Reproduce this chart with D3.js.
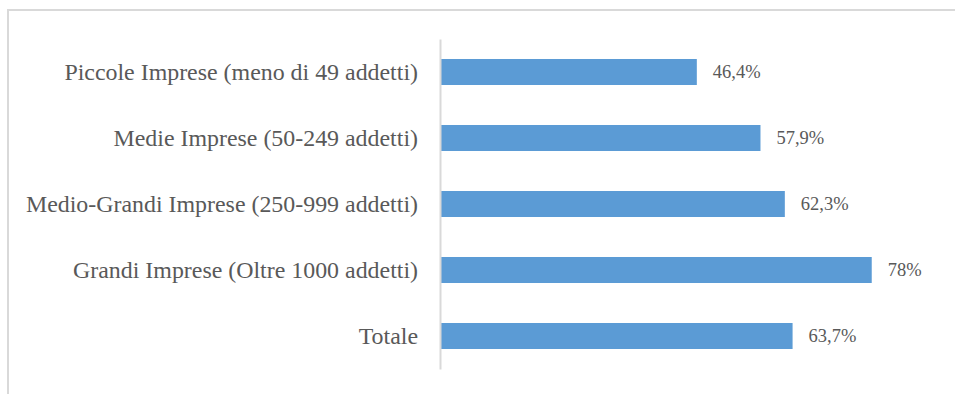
<!DOCTYPE html>
<html>
<head>
<meta charset="utf-8">
<script src="https://cdn.jsdelivr.net/npm/d3@7/dist/d3.min.js"></script>
<style>
  html, body { margin: 0; padding: 0; background: #fff; }
  svg { display: block; }
</style>
</head>
<body>
<svg id="chart" width="955" height="394"></svg>
<script>
// Share of companies by size class (percent)
const categories = [
  "Piccole Imprese (meno di 49 addetti)",
  "Medie Imprese (50-249 addetti)",
  "Medio-Grandi Imprese (250-999 addetti)",
  "Grandi Imprese (Oltre 1000 addetti)",
  "Totale"
];
const values = [46.4, 57.9, 62.3, 78, 63.7];
const valueLabels = ["46,4%", "57,9%", "62,3%", "78%", "63,7%"];

const svg = d3.select("#chart");
const textColor = "#595959";
const gridColor = "#D9D9D9";
const barColor = "#5B9BD5";

// outer chart frame (extends past the visible area on right and bottom)
svg.append("rect")
  .attr("x", 8).attr("y", 10)
  .attr("width", 1000).attr("height", 500)
  .attr("fill", "none")
  .attr("stroke", gridColor)
  .attr("stroke-width", 2);

const x = d3.scaleLinear().domain([0, 100]).range([440, 993.5]);
const y = d3.scaleBand().domain(categories).range([39, 369]).paddingInner(0.606).paddingOuter(0.303);

// bars
svg.append("g").selectAll("rect")
  .data(values)
  .join("rect")
  .attr("x", x(0))
  .attr("y", (d, i) => y(categories[i]))
  .attr("width", d => x(d) - x(0))
  .attr("height", y.bandwidth())
  .attr("fill", barColor);

// category axis
const axis = d3.axisLeft(y).tickSize(0).tickPadding(22);
const gAxis = svg.append("g")
  .attr("transform", `translate(${x(0)},0)`)
  .call(axis);
gAxis.select(".domain")
  .attr("stroke", gridColor)
  .attr("stroke-width", 2);
gAxis.selectAll("text")
  .attr("fill", textColor)
  .attr("font-family", "'Liberation Serif', 'Times New Roman', serif")
  .attr("font-size", "23.9px")
  .attr("dy", "0.35em");

// value labels
svg.append("g").selectAll("text")
  .data(values)
  .join("text")
  .attr("x", d => x(d) + 16)
  .attr("y", (d, i) => y(categories[i]) + y.bandwidth() / 2)
  .attr("dy", "0.35em")
  .attr("fill", textColor)
  .attr("font-family", "'Liberation Serif', 'Times New Roman', serif")
  .attr("font-size", "18.5px")
  .text((d, i) => valueLabels[i]);
</script>
</body>
</html>
